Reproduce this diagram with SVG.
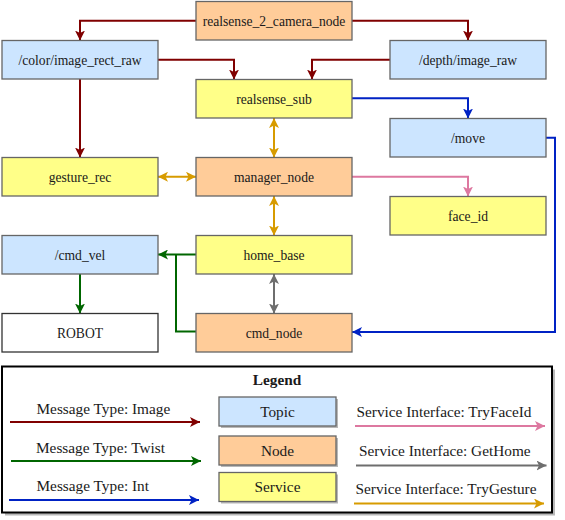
<svg xmlns="http://www.w3.org/2000/svg" width="565" height="520" viewBox="0 0 565 520">
<style>
.box{stroke:#666666;stroke-width:1.3}
.topic{fill:#cce5ff}
.node{fill:#ffcc99}
.svc{fill:#ffff88}
.plain{fill:#ffffff;stroke:#333333}
.t{font-family:"Liberation Serif","Times New Roman",serif;font-size:13.6px;fill:#1a1a1a;text-anchor:middle}
.lt{font-family:"Liberation Serif","Times New Roman",serif;font-size:15.3px;fill:#1a1a1a}
.c{fill:none;stroke-width:2}
.red{stroke:#800000}
.green{stroke:#006600}
.blue{stroke:#0022c4}
.pink{stroke:#dd78a0}
.orange{stroke:#d79b00}
.gray{stroke:#6e6e6e}
.shadow{fill:#9a9a9a;opacity:0.7}
</style>
<defs>
<marker id="aRed" markerUnits="userSpaceOnUse" markerWidth="10" markerHeight="10" refX="10" refY="5" orient="auto-start-reverse"><path d="M0,0 L10,5 L0,10 L2.5,5 z" fill="#800000"/></marker>
<marker id="aGreen" markerUnits="userSpaceOnUse" markerWidth="10" markerHeight="10" refX="10" refY="5" orient="auto-start-reverse"><path d="M0,0 L10,5 L0,10 L2.5,5 z" fill="#006600"/></marker>
<marker id="aBlue" markerUnits="userSpaceOnUse" markerWidth="10" markerHeight="10" refX="10" refY="5" orient="auto-start-reverse"><path d="M0,0 L10,5 L0,10 L2.5,5 z" fill="#0022c4"/></marker>
<marker id="aPink" markerUnits="userSpaceOnUse" markerWidth="10" markerHeight="10" refX="10" refY="5" orient="auto-start-reverse"><path d="M0,0 L10,5 L0,10 L2.5,5 z" fill="#dd78a0"/></marker>
<marker id="aOrange" markerUnits="userSpaceOnUse" markerWidth="10" markerHeight="10" refX="10" refY="5" orient="auto-start-reverse"><path d="M0,0 L10,5 L0,10 L2.5,5 z" fill="#d79b00"/></marker>
<marker id="aGray" markerUnits="userSpaceOnUse" markerWidth="10" markerHeight="10" refX="10" refY="5" orient="auto-start-reverse"><path d="M0,0 L10,5 L0,10 L2.5,5 z" fill="#6e6e6e"/></marker>
</defs>
<rect width="565" height="520" fill="#ffffff"/>

<g id="connectors">
<path class="c red" d="M196,20.75 H80 V40.5" marker-end="url(#aRed)"/>
<path class="c red" d="M352,20.75 H468 V40.5" marker-end="url(#aRed)"/>
<path class="c red" d="M158,59.75 H234 V79.5" marker-end="url(#aRed)"/>
<path class="c red" d="M390,59.75 H312 V79.5" marker-end="url(#aRed)"/>
<path class="c red" d="M80,79 V157.5" marker-end="url(#aRed)"/>
<path class="c blue" d="M352,98.25 H468 V118.5" marker-end="url(#aBlue)"/>
<path class="c blue" d="M546,137.75 H555 V332 H352" marker-end="url(#aBlue)"/>
<path class="c orange" d="M274,118 V157.5" marker-start="url(#aOrange)" marker-end="url(#aOrange)"/>
<path class="c orange" d="M158,176.75 H196" marker-start="url(#aOrange)" marker-end="url(#aOrange)"/>
<path class="c pink" d="M352,176.75 H468 V196.5" marker-end="url(#aPink)"/>
<path class="c orange" d="M274,196 V235.5" marker-start="url(#aOrange)" marker-end="url(#aOrange)"/>
<path class="c green" d="M196,254.5 H158" marker-end="url(#aGreen)"/>
<path class="c green" d="M196,331.5 H176 V254.5"/>
<path class="c green" d="M80,274 V313.5" marker-end="url(#aGreen)"/>
<path class="c gray" d="M274,274 V313.5" marker-start="url(#aGray)" marker-end="url(#aGray)"/>
</g>

<g id="realsense_2_camera_node"><rect class="box node" x="196" y="1.5" width="156" height="38.5"/><text class="t" x="274" y="25.5">realsense_2_camera_node</text></g>
<g id="color_image_rect_raw"><rect class="box topic" x="2" y="40.5" width="156" height="38.5"/><text class="t" x="80" y="64.5">/color/image_rect_raw</text></g>
<g id="depth_image_raw"><rect class="box topic" x="390" y="40.5" width="156" height="38.5"/><text class="t" x="468" y="64.5">/depth/image_raw</text></g>
<g id="realsense_sub"><rect class="box svc" x="196" y="79.5" width="156" height="38.5"/><text class="t" x="274" y="103.5">realsense_sub</text></g>
<g id="move"><rect class="box topic" x="390" y="118.5" width="156" height="38.5"/><text class="t" x="468" y="142.5">/move</text></g>
<g id="gesture_rec"><rect class="box svc" x="2" y="157.5" width="156" height="38.5"/><text class="t" x="80" y="181.5">gesture_rec</text></g>
<g id="manager_node"><rect class="box node" x="196" y="157.5" width="156" height="38.5"/><text class="t" x="274" y="181.5">manager_node</text></g>
<g id="face_id"><rect class="box svc" x="390" y="196.5" width="156" height="38.5"/><text class="t" x="468" y="220.5">face_id</text></g>
<g id="cmd_vel"><rect class="box topic" x="2" y="235.5" width="156" height="38.5"/><text class="t" x="80" y="259.5">/cmd_vel</text></g>
<g id="home_base"><rect class="box svc" x="196" y="235.5" width="156" height="38.5"/><text class="t" x="274" y="259.5">home_base</text></g>
<g id="robot"><rect class="box plain" x="2" y="313.5" width="156" height="38.5"/><text class="t" x="80" y="337.5">ROBOT</text></g>
<g id="cmd_node"><rect class="box node" x="196" y="313.5" width="156" height="38.5"/><text class="t" x="274" y="337.5">cmd_node</text></g>

<g id="legend">
<rect class="shadow" x="5" y="369.5" width="550" height="146"/>
<rect x="2" y="366.5" width="550" height="146" fill="#ffffff" stroke="#000000" stroke-width="2"/>
<text class="lt" x="277" y="385" text-anchor="middle" font-weight="bold">Legend</text>
<text class="lt" x="36.5" y="413.5">Message Type: Image</text>
<path class="c red" d="M10,422 H200" marker-end="url(#aRed)"/>
<text class="lt" x="36" y="452.5">Message Type: Twist</text>
<path class="c green" d="M11,461 H201" marker-end="url(#aGreen)"/>
<text class="lt" x="36.5" y="491">Message Type: Int</text>
<path class="c blue" d="M9,500 H199" marker-end="url(#aBlue)"/>
<rect class="shadow" x="221" y="399" width="117" height="29"/>
<rect class="box topic" x="219" y="397" width="117" height="29"/>
<text class="lt" x="277.5" y="416.5" text-anchor="middle">Topic</text>
<rect class="shadow" x="221" y="438" width="117" height="29"/>
<rect class="box node" x="219" y="436" width="117" height="29"/>
<text class="lt" x="277.5" y="455.5" text-anchor="middle">Node</text>
<rect class="shadow" x="221" y="474.5" width="117" height="29"/>
<rect class="box svc" x="219" y="472.5" width="117" height="29"/>
<text class="lt" x="277.5" y="492" text-anchor="middle">Service</text>
<text class="lt" x="356.5" y="416.5">Service Interface: TryFaceId</text>
<path class="c pink" d="M355,426 H545" marker-end="url(#aPink)"/>
<text class="lt" x="359" y="456">Service Interface: GetHome</text>
<path class="c gray" d="M356,465.5 H546.5" marker-end="url(#aGray)"/>
<text class="lt" x="355.5" y="493.5">Service Interface: TryGesture</text>
<path class="c orange" d="M354,503.5 H544" marker-end="url(#aOrange)"/>
</g>
</svg>
